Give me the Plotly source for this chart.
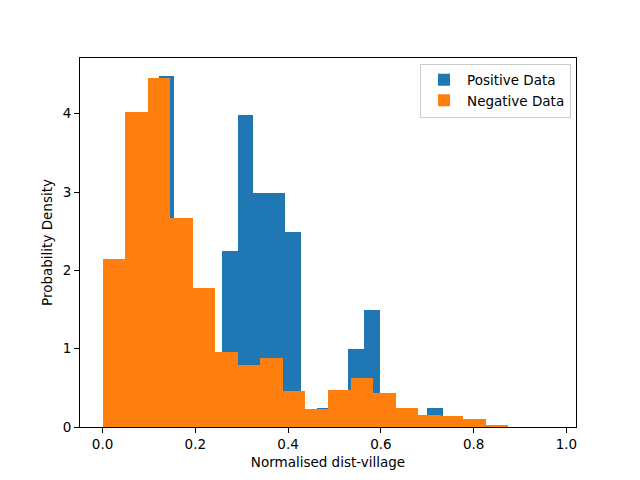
import numpy as np
import plotly.graph_objects as go

# Positive (blue) histogram: 28 bins starting at 0.0187, width 0.03404
pos_start = 0.0187
pos_width = 0.03404
pos_density = [0.50, 1.00, 1.49, 4.488, 1.99, 1.245, 0.747, 2.246, 3.99, 2.985,
               2.985, 2.488, 0.0, 0.245, 0.0, 0.997, 1.494, 0.0, 0.0, 0.0,
               0.246, 0.0, 0.0, 0.0, 0.0, 0.0, 0.0, 0.0]

# Negative (orange) histogram: 20 bins starting at 0.0, width 0.0486
neg_start = 0.0
neg_width = 0.0486
neg_density = [2.144, 4.017, 4.462, 2.666, 1.775, 0.959, 0.794, 0.883, 0.462, 0.233,
               0.475, 0.628, 0.437, 0.246, 0.157, 0.144, 0.106, 0.017, 0.0, 0.0]

x_ticks = [0.0, 0.2, 0.4, 0.6, 0.8, 1.0]
y_ticks = [0, 1, 2, 3, 4]

pos_centers = pos_start + pos_width * (np.arange(len(pos_density)) + 0.5)
neg_centers = neg_start + neg_width * (np.arange(len(neg_density)) + 0.5)

font = dict(family="DejaVu Sans", size=13.5, color="black")

fig = go.Figure()
fig.add_trace(go.Bar(x=pos_centers, y=pos_density, width=pos_width,
                     marker=dict(color="#1f77b4", line=dict(width=0)),
                     name="Positive Data"))
fig.add_trace(go.Bar(x=neg_centers, y=neg_density, width=neg_width,
                     marker=dict(color="#ff7f0e", line=dict(width=0)),
                     name="Negative Data"))

axis_common = dict(showline=True, linecolor="black", linewidth=1, mirror=True,
                   ticks="outside", ticklen=5, tickwidth=1, tickcolor="black",
                   showgrid=False, zeroline=False, tickfont=font)

fig.update_layout(
    width=640, height=480,
    margin=dict(l=80, r=64, t=58, b=53),
    paper_bgcolor="white", plot_bgcolor="white",
    barmode="overlay", bargap=0,
    font=font,
    showlegend=True,
    legend=dict(x=0.99, y=0.985, xanchor="right", yanchor="top",
                bordercolor="#cccccc", borderwidth=1, bgcolor="rgba(255,255,255,0.8)",
                font=font, tracegroupgap=0, itemwidth=36),
    xaxis=dict(range=[-0.0486, 1.0206], tickvals=x_ticks,
               ticktext=[f"{v:.1f}" for v in x_ticks],
               title=dict(text="Normalised dist-village", font=font, standoff=6),
               **axis_common),
    yaxis=dict(range=[0, 4.712], tickvals=y_ticks,
               title=dict(text="Probability Density", font=font, standoff=6),
               **axis_common),
)

fig.write_html("out.html", config={"displayModeBar": False},
               post_script="document.body.style.margin='0px';document.body.style.overflow='hidden';")
